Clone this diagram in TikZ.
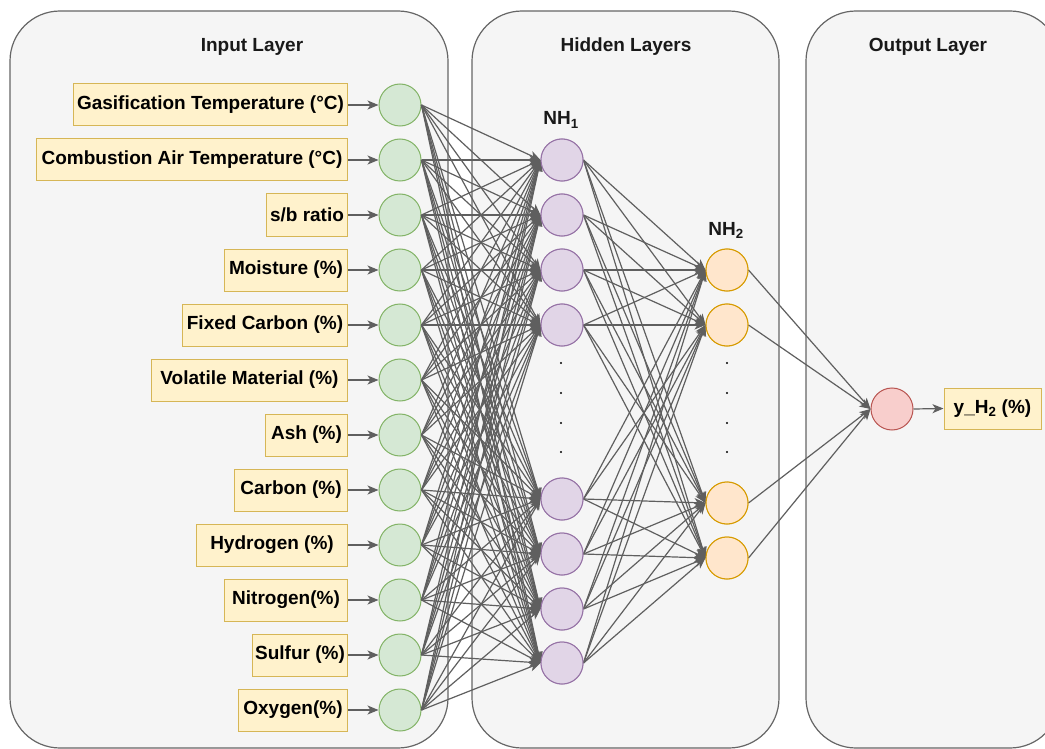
\documentclass[tikz,border=0pt]{standalone}
\usepackage{fontspec}
\setmainfont{Liberation Sans}
\usetikzlibrary{arrows.meta}
\definecolor{panelfill}{HTML}{F5F5F5}
\definecolor{paneldraw}{HTML}{666666}
\definecolor{boxfill}{HTML}{FFF2CC}
\definecolor{boxdraw}{HTML}{D6B656}
\definecolor{gfill}{HTML}{D5E8D4}
\definecolor{gdraw}{HTML}{82B366}
\definecolor{pfill}{HTML}{E1D5E7}
\definecolor{pdraw}{HTML}{9673A6}
\definecolor{ofill}{HTML}{FFE6CC}
\definecolor{odraw}{HTML}{D79B00}
\definecolor{rfill}{HTML}{F8CECC}
\definecolor{rdraw}{HTML}{B85450}
\definecolor{edgec}{HTML}{5F5F5F}
\tikzset{
  panel/.style={draw=paneldraw, fill=panelfill, line width=1.2pt, rounded corners=50pt},
  ttl/.style={font=\bfseries\fontsize{19}{22}\selectfont, anchor=base, inner sep=0pt, text=black!90},
  lbl/.style={draw=boxdraw, fill=boxfill, line width=1pt, font=\bfseries\fontsize{19}{22}\selectfont, minimum height=42pt, inner sep=0pt, anchor=east, text=black},
  neuron/.style={circle, minimum size=42pt, inner sep=0pt, line width=1pt},
  gnode/.style={neuron, draw=gdraw, fill=gfill},
  pnode/.style={neuron, draw=pdraw, fill=pfill},
  onode/.style={neuron, draw=odraw, fill=ofill},
  rnode/.style={neuron, draw=rdraw, fill=rfill},
  conn/.style={draw=edgec, line width=1.2pt, -{Stealth[length=11pt,width=9pt,inset=3pt]}},
  dotmark/.style={circle, fill=black, inner sep=0pt, minimum size=2.4pt},
}
\begin{document}
\begin{tikzpicture}[x=1pt,y=-1pt]
\useasboundingbox (0,0) rectangle (1045,749);
\clip (0,0) rectangle (1045,749);
\fill[white] (0,0) rectangle (1045,749);
% panels
\draw[panel] (10,11) rectangle (448,748);
\draw[panel] (472,11) rectangle (779,748);
\draw[panel] (806,11) rectangle (1060,748);
\node[ttl] (t1) at (252,52) {Input Layer};
\node[ttl] (t2) at (626,52) {Hidden Layers};
\node[ttl] (t3) at (928,52) {Output Layer};
% input labels and nodes
\foreach \i/\txt/\lx in {
  1/Gasification Temperature (°C)/74,
  2/Combustion Air Temperature (°C)/37,
  3/s\slash b ratio/267,
  4/Moisture (\%)/225,
  5/Fixed Carbon (\%)/183,
  6/Volatile Material (\%)/152,
  7/Ash (\%)/266,
  8/Carbon (\%)/235,
  9/Hydrogen (\%)/197,
  10/Nitrogen(\%)/225,
  11/Sulfur (\%)/253,
  12/Oxygen(\%)/239}{
  \pgfmathsetmacro{\yy}{105+55*(\i-1)}
  \pgfmathsetmacro{\ww}{348-\lx}
  \node[lbl, minimum width=\ww pt] (l\i) at (348,\yy) {\txt};
  \node[gnode] (i\i) at (400,\yy) {};
  \draw[conn] (l\i.east) -- (i\i.west);
}
% hidden layer 1
\foreach \j/\yy in {1/160,2/215,3/270,4/325,5/499,6/554,7/609,8/663}{
  \node[pnode] (h\j) at (562,\yy) {};
}
% hidden layer 2
\foreach \k/\yy in {1/270,2/325,3/503,4/558}{
  \node[onode] (g\k) at (727,\yy) {};
}
\node[rnode] (out) at (892,409) {};
\node[lbl, minimum width=97pt, minimum height=41pt, anchor=center] (ol) at (992.5,408.5) {y\_H\textsubscript{2} (\%)};
% labels
\node[ttl] (nh1) at (561,125) {NH\textsubscript{1}};
\node[ttl] (nh2) at (726,235) {NH\textsubscript{2}};
% dots
\foreach \yy [count=\n] in {363,393,423,452}{
  \node[dotmark] (da\n) at (561,\yy) {};
  \node[dotmark] (db\n) at (727,\yy) {};
}
% connections
\foreach \i in {1,...,12}{
  \foreach \j in {1,...,8}{
    \draw[conn] (i\i.east) -- (h\j.west);
  }
}
\foreach \j in {1,...,8}{
  \foreach \k in {1,...,4}{
    \draw[conn] (h\j.east) -- (g\k.west);
  }
}
\foreach \k in {1,...,4}{
  \draw[conn] (g\k.east) -- (out.west);
}
\draw[conn] (out.east) -- (ol.west);
% redraw nodes on top of edges
\foreach \j/\yy in {1/160,2/215,3/270,4/325,5/499,6/554,7/609,8/663}{
  \node[pnode] at (562,\yy) {};
}
\foreach \k/\yy in {1/270,2/325,3/503,4/558}{
  \node[onode] at (727,\yy) {};
}
\end{tikzpicture}
\end{document}
